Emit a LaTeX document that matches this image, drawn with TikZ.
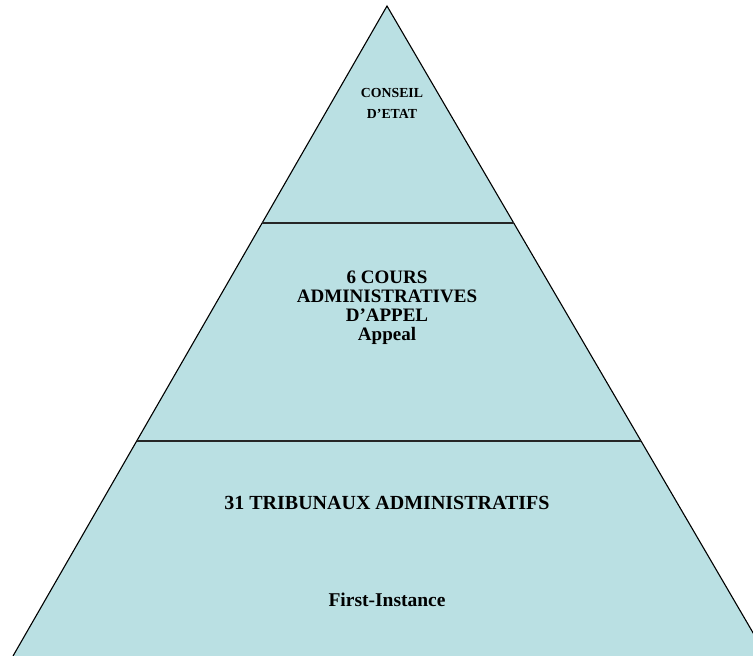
\documentclass[tikz,border=0pt]{standalone}
\usepackage{fontspec}
\setmainfont{Liberation Serif}
\usetikzlibrary{calc}
\definecolor{tierfill}{RGB}{186,224,227}
\tikzset{
  edge/.style={draw=black, line width=1.1pt},
  divider/.style={draw=black!85, line width=2.2pt},
  tiertext/.style={font=\bfseries, align=center, inner sep=0pt}
}
\begin{document}
\begin{tikzpicture}[x=1pt,y=-1pt]
  \useasboundingbox (0,0) rectangle (753,656);
  \clip (0,0) rectangle (753,656);
  % corners of the pyramid
  \coordinate (apex) at (387,6);
  \coordinate (bl) at (13,656);
  \coordinate (br) at (766.6,656);
  % end points of the two dividers on the slanted sides
  \coordinate (l1) at ($(apex)!{217/650}!(bl)$);
  \coordinate (r1) at ($(apex)!{217/650}!(br)$);
  \coordinate (l2) at ($(apex)!{435/650}!(bl)$);
  \coordinate (r2) at ($(apex)!{435/650}!(br)$);
  \fill[tierfill] (apex) -- (bl) -- (br) -- cycle;
  \draw[edge] (bl) -- (apex) -- (br);
  \draw[divider] (l1) -- (r1);
  \draw[divider] (l2) -- (r2);
  % tier labels
  \node[tiertext, font=\bfseries\fontsize{13.8}{21}\selectfont] (top) at (392,103.5) {CONSEIL\\D’ETAT};
  \node[tiertext, font=\bfseries\fontsize{19}{19}\selectfont] (mid) at (387,307.5) {6 COURS\\ADMINISTRATIVES\\D’APPEL\\Appeal};
  \node[tiertext, font=\bfseries\fontsize{20}{20}\selectfont] (low) at (387,503) {31 TRIBUNAUX ADMINISTRATIFS};
  \node[tiertext, font=\bfseries\fontsize{19.5}{20}\selectfont] (lowsub) at (387,600) {First-Instance};
\end{tikzpicture}
\end{document}
